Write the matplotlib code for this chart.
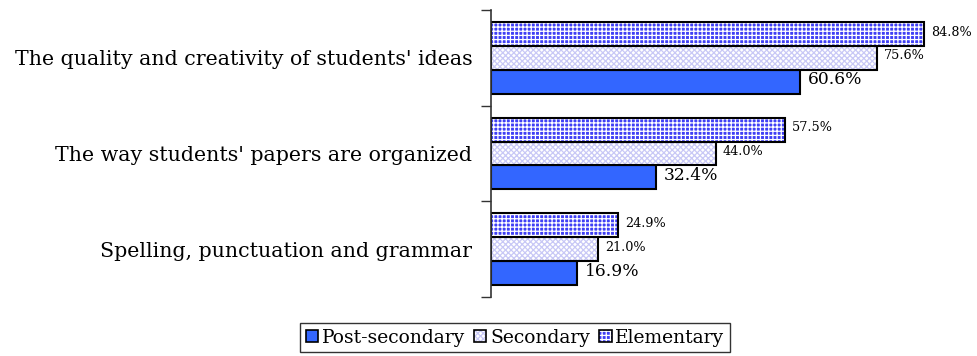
import matplotlib
matplotlib.use("Agg")
import matplotlib.pyplot as plt
from matplotlib.patches import Patch
from matplotlib.legend_handler import HandlerTuple
import numpy as np

categories = [
    "The quality and creativity of students' ideas",
    "The way students' papers are organized",
    "Spelling, punctuation and grammar",
]
series_names = ["Post-secondary", "Secondary", "Elementary"]
post_secondary = [60.6, 32.4, 16.9]
secondary = [75.6, 44.0, 21.0]
elementary = [84.8, 57.5, 24.9]

plt.rcParams["font.family"] = ["DejaVu Serif"]
plt.rcParams["hatch.linewidth"] = 0.9

fig = plt.figure(figsize=(9.77, 3.56), dpi=100)
ax = fig.add_axes([491 / 977, 59 / 356, 480 / 977, 287 / 356])

y = np.arange(len(categories))
h = 0.25
styles = {
    "Post-secondary": dict(face="#3366FF", hatch=None, hcolor="#3366FF"),
    "Secondary": dict(face="#FFFFFF", hatch="xxxxxx", hcolor="#C8C8F6"),
    "Elementary": dict(face="#3F3FF5", hatch="++++", hcolor="#FFFFFF"),
}
offsets = {"Post-secondary": h, "Secondary": 0.0, "Elementary": -h}
values = {"Post-secondary": post_secondary, "Secondary": secondary,
          "Elementary": elementary}
label_size = {"Post-secondary": 12.3, "Secondary": 9.2, "Elementary": 9.2}

handles = []
for name in series_names:
    st = styles[name]
    pos = y + offsets[name]
    ax.barh(pos, values[name], height=h, color=st["face"], hatch=st["hatch"],
            edgecolor=st["hcolor"], linewidth=0)
    ax.barh(pos, values[name], height=h, fill=False, edgecolor="black",
            linewidth=1.5)
    for p, v in zip(pos, values[name]):
        ax.text(v + 1.4, p - 0.02, f"{v:.1f}%", va="center", ha="left",
                fontsize=label_size[name])
    handles.append((Patch(facecolor=st["face"], hatch=st["hatch"],
                          edgecolor=st["hcolor"], linewidth=0),
                    Patch(fill=False, edgecolor="black", linewidth=1.2)))

ax.set_xlim(0, 94)
ax.set_ylim(len(categories) - 0.5, -0.5)
ax.set_xticks([])
ax.set_yticks(np.arange(-0.5, len(categories) + 0.5, 1.0))
ax.set_yticklabels([])
ax.set_yticks(y, minor=True)
ax.set_yticklabels(categories, minor=True, fontsize=14.8)
ax.tick_params(axis="y", which="major", length=7, width=1, color="#333333")
ax.tick_params(axis="y", which="minor", length=0, pad=13.5)
for side in ["top", "right", "bottom"]:
    ax.spines[side].set_visible(False)
ax.spines["left"].set_linewidth(1.2)
ax.spines["left"].set_color("#333333")

leg = fig.legend(handles, series_names, loc="upper center",
                 bbox_to_anchor=(515 / 977, 1 - 323 / 356), ncol=3,
                 handler_map={tuple: HandlerTuple(ndivide=1)},
                 frameon=True, fancybox=False, edgecolor="black",
                 fontsize=13.5, handlelength=0.65, handleheight=0.65,
                 handletextpad=0.2, columnspacing=0.5, borderpad=0.3,
                 borderaxespad=0)
leg.get_frame().set_linewidth(1.0)

fig.savefig("out.png", dpi=100)
